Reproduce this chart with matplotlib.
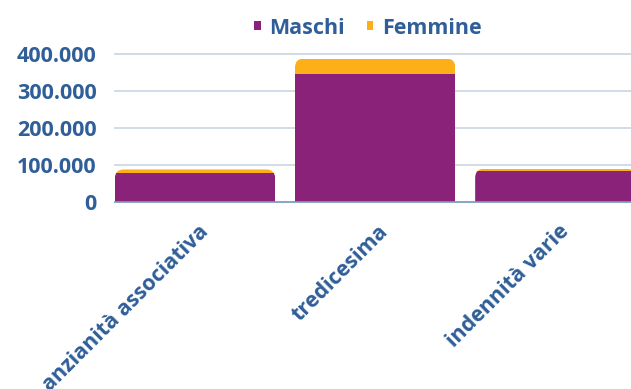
import matplotlib
matplotlib.use("Agg")
import matplotlib.pyplot as plt
from matplotlib.patches import FancyBboxPatch
from matplotlib.ticker import FuncFormatter, FixedLocator
from matplotlib.transforms import IdentityTransform, ScaledTranslation

categories = ["anzianità associativa", "tredicesima", "indennità varie"]
maschi = [78000, 348000, 84000]
femmine = [10000, 41000, 6000]
series_names = ["Maschi", "Femmine"]
y_ticks = [0, 100000, 200000, 300000, 400000]

PURPLE = "#8A2279"
ORANGE = "#FCAF17"
TEXT = "#2F5E98"
GRID = "#C8D5E2"
AXIS = "#7F9DBF"
FS = 15.5

plt.rcParams["font.family"] = ["Open Sans", "DejaVu Sans"]
plt.rcParams["font.weight"] = "bold"

fig = plt.figure(figsize=(6.31, 3.89), dpi=100)
ax = fig.add_axes([0.182, 0.481, 0.818, 0.379])

x = list(range(len(categories)))
width = 0.89
b1 = ax.bar(x, maschi, width, color=PURPLE, label=series_names[0], zorder=3)
b2 = ax.bar(x, femmine, width, bottom=maschi, color=ORANGE, label=series_names[1], zorder=3)

ax.set_xlim(-0.445, 2.42)
ax.set_ylim(0, 400000)
ax.yaxis.set_major_locator(FixedLocator(y_ticks))
ax.yaxis.set_major_formatter(FuncFormatter(lambda v, p: f"{int(v):,}".replace(",", ".")))
ax.grid(axis="y", color=GRID, linewidth=1.2, zorder=0)
ax.set_axisbelow(True)
for s in ["top", "right", "left"]:
    ax.spines[s].set_visible(False)
ax.spines["bottom"].set_color(AXIS)
ax.spines["bottom"].set_linewidth(1.2)
ax.spines["bottom"].set_zorder(4)
ax.tick_params(axis="both", length=0, colors=TEXT, labelsize=FS)
ax.tick_params(axis="y", pad=13)
ax.tick_params(axis="x", pad=14)

ax.set_xticks(x)
ax.set_xticklabels(categories, rotation=45, ha="right", va="top",
                   rotation_mode="anchor", fontweight="bold")
offset = ScaledTranslation(2 / 72, 0, fig.dpi_scale_trans)
for lbl in ax.get_xticklabels():
    lbl.set_transform(lbl.get_transform() + offset)
for lbl in ax.get_yticklabels():
    lbl.set_fontweight("bold")

for gl in ax.get_ygridlines():
    gl.set_clip_on(False)

# Rounded top corners for each stacked column
fig.canvas.draw()
radius = 9
for r1, r2 in zip(b1, b2):
    bb1 = r1.get_window_extent()
    bb2 = r2.get_window_extent()
    x0, x1 = bb1.x0, bb1.x1
    y_top = max(bb1.y1, bb2.y1)
    y_bot = bb1.y0 - 3 * radius
    clip = FancyBboxPatch((x0, y_bot), x1 - x0, y_top - y_bot,
                          boxstyle=f"round,pad=0,rounding_size={radius}",
                          transform=IdentityTransform())
    r1.set_clip_path(clip)
    r2.set_clip_path(clip)

leg = fig.legend(handles=[b1, b2], labels=series_names, loc="center",
                 bbox_to_anchor=(0.583, 0.928), ncol=2, frameon=False,
                 handlelength=0.3, handleheight=0.3, handletextpad=0.4,
                 columnspacing=1.0, fontsize=FS)
for t in leg.get_texts():
    t.set_color(TEXT)
    t.set_fontweight("bold")

fig.savefig("out.png", dpi=100)
